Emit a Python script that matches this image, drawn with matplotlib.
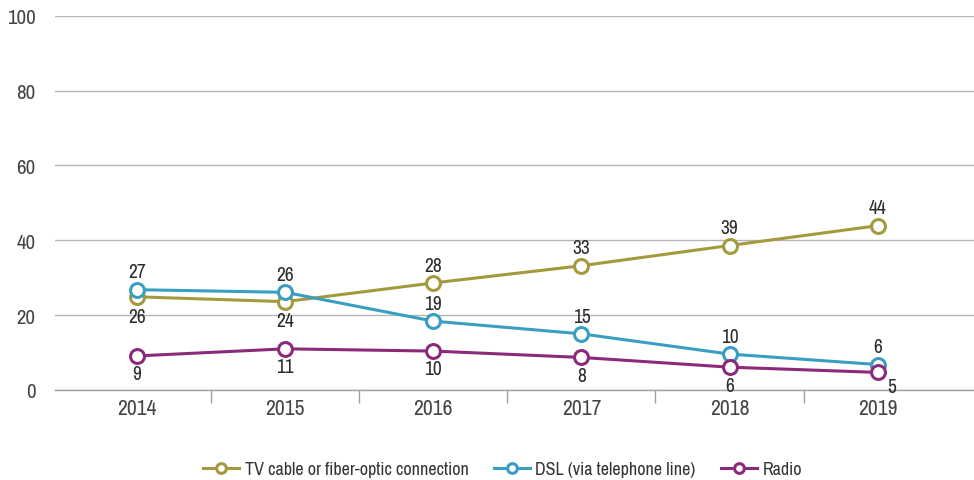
import matplotlib.pyplot as plt
from matplotlib import font_manager

years = ["2014", "2015", "2016", "2017", "2018", "2019"]

tv_cable = [24.9, 23.6, 28.6, 33.2, 38.6, 43.9]
dsl = [26.8, 26.1, 18.4, 15.0, 9.6, 6.8]
radio = [9.1, 11.0, 10.4, 8.7, 6.1, 4.7]

tv_labels = ["26", "24", "28", "33", "39", "44"]
dsl_labels = ["27", "26", "19", "15", "10", "6"]
radio_labels = ["9", "11", "10", "8", "6", "5"]

names = ["TV cable or fiber-optic connection", "DSL (via telephone line)", "Radio"]

# narrow font if one is around, otherwise Roboto
installed = sorted({f.name for f in font_manager.fontManager.ttflist})
narrow = [n for n in installed if "Condensed" in n or "Narrow" in n]
if narrow:
    fam = [narrow[0], "DejaVu Sans"]
elif "Roboto" in installed:
    fam = ["Roboto", "DejaVu Sans"]
else:
    fam = ["DejaVu Sans"]
plt.rcParams["font.family"] = fam

fig = plt.figure(figsize=(9.74, 4.81), dpi=100)
ax = fig.add_axes([55 / 974, 1 - 391 / 481, (974 - 55) / 974, (391 - 16.7) / 481])

x = list(range(len(years)))
colors = ["#a39a3e", "#3a9ec2", "#8b2a7a"]

for vals, col, name in zip([tv_cable, dsl, radio], colors, names):
    ax.plot(x, vals, color=col, lw=2.2, marker="o", ms=10, mfc="white",
            mec=col, mew=2.2, label=name, zorder=3)

lab_kw = dict(ha="center", fontsize=14, color="#2b2b2b", fontweight="bold")
for i in x:
    # TV: below for first two points, above otherwise
    if i < 2:
        ax.annotate(tv_labels[i], (i, tv_cable[i]), xytext=(0, -7), textcoords="offset points", va="top", **lab_kw)
    else:
        ax.annotate(tv_labels[i], (i, tv_cable[i]), xytext=(0, 6), textcoords="offset points", va="bottom", **lab_kw)
    ax.annotate(dsl_labels[i], (i, dsl[i]), xytext=(0, 6), textcoords="offset points", va="bottom", **lab_kw)
    if i == 5:
        ax.annotate(radio_labels[i], (i, radio[i]), xytext=(10, -3), textcoords="offset points", va="top", **lab_kw)
    else:
        ax.annotate(radio_labels[i], (i, radio[i]), xytext=(0, -6), textcoords="offset points", va="top", **lab_kw)

ax.set_ylim(0, 100)
ax.set_yticks([0, 20, 40, 60, 80, 100])
ax.set_xlim(-0.553, 5.65)
ax.set_xticks(x)
ax.set_xticklabels(years)
ax.set_xticks([i + 0.5 for i in range(5)], minor=True)

ax.grid(axis="y", color="#b5b5b5", lw=1)
ax.set_axisbelow(True)
for s in ["top", "right", "left"]:
    ax.spines[s].set_visible(False)
ax.spines["bottom"].set_color("#a0a0a0")
ax.spines["bottom"].set_linewidth(1)

ax.tick_params(axis="y", length=0, labelsize=15, labelcolor="#444444", pad=14)
ax.tick_params(axis="x", which="major", length=0, labelsize=15.5, labelcolor="#444444", pad=6)
ax.tick_params(axis="x", which="minor", length=9, color="#a0a0a0", width=1)

ax.legend(loc="center", bbox_to_anchor=(0.487, -0.211), ncol=3, frameon=False,
          fontsize=13, handlelength=2.0, columnspacing=1.4, handletextpad=0.3,
          labelcolor="#333333")
for h in ax.get_legend().legend_handles:
    h.set_markersize(7)

fig.savefig("out.png", dpi=100)
